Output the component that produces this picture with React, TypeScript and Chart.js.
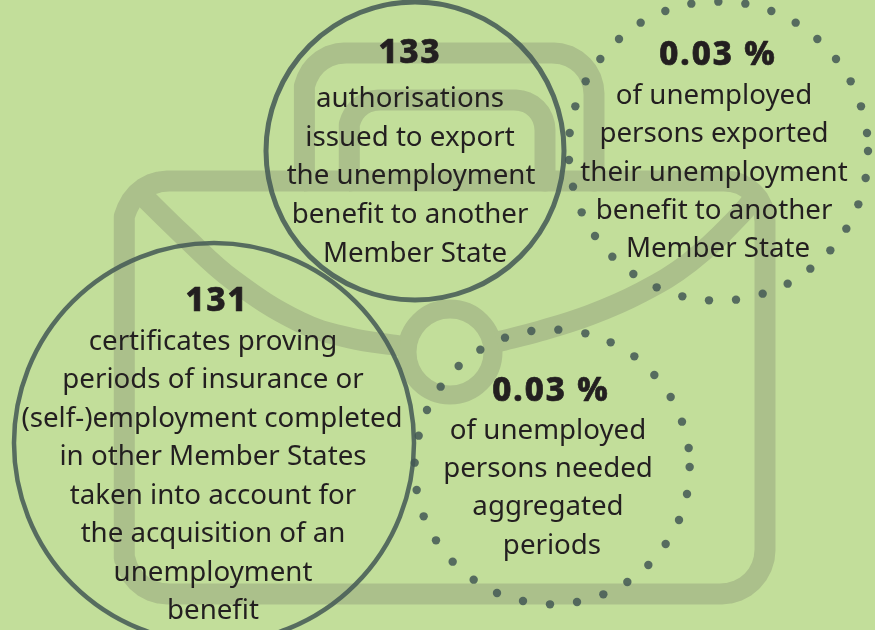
import React, { useEffect, useRef } from "react";
import { Chart, registerables } from "chart.js";

Chart.register(...registerables);

const P = (x: number, y: number) => ({ x, y });

// Envelope icon outlines
const envelopeBody = [P(304,181),P(725,181),P(732.8,181.8),P(740.3,184),P(747.2,188),P(753.3,193),P(758.3,199.2),P(762,206.3),P(764.2,213.8),P(765,221),P(765,550),P(764.15,558.6),P(761.65,566.8),P(757.6,574.4),P(752.1,581.1),P(745.4,586.6),P(737.8,590.6),P(729.6,593.15),P(721,594),P(168,594),P(159.4,593.15),P(151.2,590.6),P(143.6,586.6),P(136.9,581.1),P(131.4,574.4),P(127.35,566.8),P(124.85,558.6),P(124,550),P(124,225),P(124.85,216.4),P(127.35,208.2),P(131.4,200.6),P(136.9,193.9),P(143.6,188.4),P(151.2,184.4),P(159.4,181.85),P(168,181),P(304,181)];
const envelopeOuterFlap = [P(304,181),P(304,94),P(304.8,86),P(307.1,78.3),P(310.9,71.2),P(316,65),P(322.2,59.9),P(329.3,56.1),P(337,53.8),P(345,53),P(553,53),P(561,53.8),P(568.7,56.1),P(575.8,59.9),P(582,65),P(587.1,71.2),P(590.9,78.3),P(593.2,86),P(594,94),P(594,181)];
const envelopeInnerFlap = [P(349,181),P(349,130),P(349.6,124.2),P(351.3,118.5),P(354,113.3),P(357.8,108.8),P(362.3,105),P(367.5,102.3),P(373.2,100.6),P(379,100),P(515,100),P(520.8,100.6),P(526.5,102.3),P(531.7,105),P(536.2,108.8),P(540,113.3),P(542.7,118.5),P(544.4,124.2),P(545,130),P(545,181)];
const envelopeFoldLeft = [P(137,190),P(183,235),P(233,280),P(300,322),P(350,338),P(400,346)];
const envelopeFoldRight = [P(497,342),P(540,331),P(590,315),P(640,293),P(690,262),P(740,215),P(760,190)];
const envelopeSeal = [{ x: 450, y: 352, r: 43 }];

// Solid rings
const ringTop = [{ x: 415, y: 151, r: 149 }];
const ringLeft = [{ x: 214, y: 443, r: 200 }];

// Dotted rings
const dotsTop = [[394,11],[475,5],[556,11],[634,33],[707,68],[772,117],[828,177],[872,244],[903,319],[921,399],[924,453],[917,534],[895,613],[859,686],[811,751],[751,806],[683,851],[608,881],[528,899],[447,901],[367,889],[290,862],[220,822],[157,770],[105,708],[65,637],[39,560],[27,480],[29,399],[46,319],[77,244],[121,177],[177,117],[242,68],[316,33]].map(([a, b]) => P(560 + a / 3, b / 3));
const dotsBottom = [[315,83],[394,63],[475,59],[556,70],[632,97],[703,139],[763,195],[812,261],[846,335],[866,414],[869,471],[861,552],[837,630],[797,702],[745,765],[682,816],[610,853],[531,876],[450,883],[369,873],[291,849],[221,809],[158,755],[108,691],[71,619],[50,540],[44,458],[56,377],[81,300],[122,230],[176,168],[241,119]].map(([a, b]) => P(400 + a / 3, 310 + b / 3));

// Text
const headings = ["133", "0.03 %", "0.03 %", "131"];
const headingX = [410, 718, 551, 217];
const headingY = [63, 65, 401, 311];
const bodyLines = [
  "authorisations", "issued to export", "the unemployment", "benefit to another", "Member State",
  "of unemployed", "persons exported", "their unemployment", "benefit to another", "Member State",
  "of unemployed", "persons needed", "aggregated", "periods",
  "certificates proving", "periods of insurance or", "(self-)employment completed", "in other Member States", "taken into account for", "the acquisition of an", "unemployment", "benefit",
];
const bodyX = [410,410,411,410,415, 714,714,714,714,718, 548,548,548,552, 213,213,212,213,213,213,213,213];
const bodyY = [107,146,184,223,262, 104,142,181,219,257, 439,477,515,554, 350,388,427,465,504,542,581,619];

const BG = "#c2de9a";
const BAND = "#abc08b";
const RING = "rgba(67,88,85,0.85)";
const INK = "#231f20";

const textPlugin = {
  id: "texts",
  beforeDraw(chart: any) {
    const { ctx, width, height } = chart;
    ctx.save();
    ctx.fillStyle = BG;
    ctx.fillRect(0, 0, width, height);
    ctx.restore();
  },
  afterDraw(chart: any) {
    const { ctx, scales } = chart;
    ctx.save();
    ctx.fillStyle = INK;
    ctx.strokeStyle = INK;
    ctx.textAlign = "center";
    ctx.textBaseline = "alphabetic";
    ctx.lineJoin = "round";
    ctx.lineWidth = 0.7;
    ctx.font = '800 33px "Noto Sans"';
    ctx.letterSpacing = "2px";
    headings.forEach((t, i) => {
      const x = scales.x.getPixelForValue(headingX[i]);
      const y = scales.y.getPixelForValue(headingY[i]);
      ctx.fillText(t, x, y);
      ctx.strokeText(t, x, y);
    });
    ctx.letterSpacing = "0px";
    ctx.font = '400 27.7px "Noto Sans"';
    bodyLines.forEach((t, i) => ctx.fillText(t, scales.x.getPixelForValue(bodyX[i]), scales.y.getPixelForValue(bodyY[i])));
    ctx.restore();
  },
};

const band = (data: any[]) => ({
  type: "line",
  data,
  borderColor: BAND,
  borderWidth: 21,
  borderCapStyle: "butt",
  borderJoinStyle: "round",
  pointRadius: 0,
  tension: 0,
  fill: false,
  order: 5,
});
const ring = (data: any[], borderWidth: number) => ({
  type: "bubble",
  data,
  backgroundColor: "rgba(0,0,0,0)",
  borderColor: RING,
  borderWidth,
  order: 1,
  clip: false,
});
const dots = (data: any[]) => ({
  type: "scatter",
  data,
  backgroundColor: RING,
  borderWidth: 0,
  pointRadius: 4.2,
  order: 2,
});

export default function App() {
  const ref = useRef<HTMLCanvasElement>(null);
  useEffect(() => {
    document.body.style.margin = "0";
    document.body.style.background = BG;
    const chart = new Chart(ref.current as HTMLCanvasElement, {
      data: {
        datasets: [
          band(envelopeBody),
          band(envelopeOuterFlap),
          band(envelopeInnerFlap),
          { ...band(envelopeFoldLeft), tension: 0.4 },
          { ...band(envelopeFoldRight), tension: 0.4 },
          { type: "bubble", data: envelopeSeal, backgroundColor: "rgba(0,0,0,0)", borderColor: BAND, borderWidth: 19, order: 5 },
          ring(ringTop, 5),
          ring(ringLeft, 4.5),
          dots(dotsTop),
          dots(dotsBottom),
        ] as any,
      },
      options: {
        responsive: false,
        animation: false,
        layout: { padding: 0, autoPadding: false },
        events: [],
        plugins: { legend: { display: false }, tooltip: { enabled: false }, title: { display: false } },
        scales: {
          x: { type: "linear", min: 0, max: 875, display: false },
          y: { type: "linear", min: 0, max: 630, reverse: true, display: false },
        },
      },
      plugins: [textPlugin],
    } as any);
    return () => chart.destroy();
  }, []);
  return <canvas ref={ref} width={875} height={630} style={{ display: "block" }} />;
}
